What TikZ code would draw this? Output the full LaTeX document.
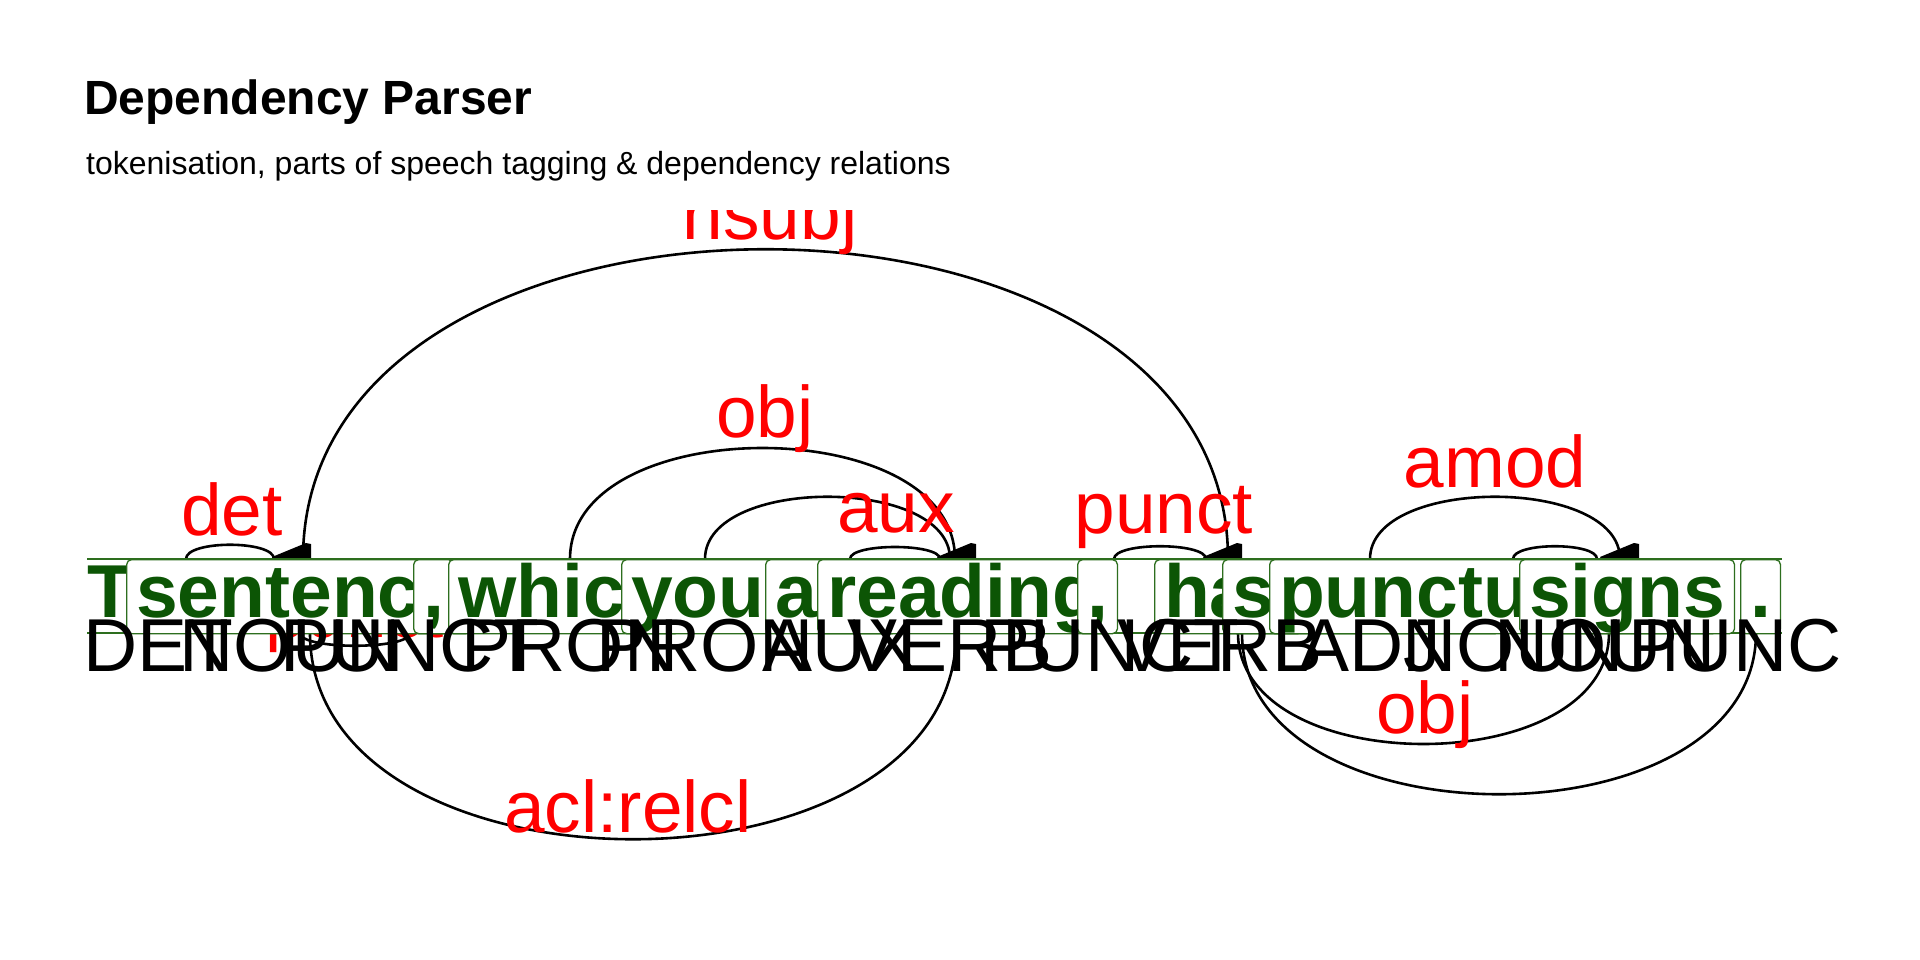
\documentclass[tikz,border=0pt]{standalone}
\usepackage{fontspec}
\setmainfont{Liberation Sans}
\newcommand\wordfnt{\fontsize{75}{82}\selectfont\bfseries}
\newcommand\tagfnt{\fontsize{75}{82}\selectfont}
\newcommand\lblfnt{\fontsize{73}{80}\selectfont}
\newcommand\titlefnt{\fontsize{48}{56}\selectfont\bfseries}
\newcommand\subfnt{\fontsize{32}{38}\selectfont}
\definecolor{wordgreen}{RGB}{12,85,5}
\definecolor{boxgreen}{RGB}{45,110,30}
\definecolor{lblred}{RGB}{255,0,0}
\begin{document}
\begin{tikzpicture}[x=1pt,y=-1pt,
  arcline/.style={draw=black,line width=2.6pt},
  wedge/.style={fill=black,draw=none},
  lbl/.style={font=\lblfnt,text=lblred,inner sep=0pt,anchor=base},
  wordbox/.style={draw=boxgreen,fill=white,rounded corners=5pt,line width=1.3pt,
    inner xsep=9.5pt,inner ysep=0pt,text height=58pt,text depth=16pt,
    font=\wordfnt,text=wordgreen,anchor=north west},
  tagtext/.style={font=\tagfnt,text=black,inner sep=0pt,anchor=base},
  rowline/.style={draw=boxgreen,line width=1.3pt}]
\useasboundingbox[fill=white] (0,0) rectangle (1920,960);

% ---------- upper arcs ----------
\coordinate (detA) at (186,559);   \coordinate (detB) at (274,559);
\coordinate (nsA) at (303,559);    \coordinate (nsB) at (1228,559);
\coordinate (objA) at (570,559);   \coordinate (objB) at (955,559);
\coordinate (nsbA) at (705,559);   \coordinate (nsbB) at (950,559);
\coordinate (auxA) at (850,559);   \coordinate (auxB) at (940,559);
\coordinate (puA) at (1114,559);   \coordinate (puB) at (1206,559);
\coordinate (amA) at (1370,559);   \coordinate (amB) at (1620,559);
\coordinate (coA) at (1513,559);   \coordinate (coB) at (1597,559);

\draw[arcline] (detA) .. controls (186,540) and (274,540) .. (detB);
\draw[arcline] (nsA) .. controls (303,146) and (1228,146) .. (nsB);
\draw[arcline] (objA) .. controls (570,411) and (955,411) .. (objB);
\draw[arcline] (nsbA) .. controls (705,476) and (950,476) .. (nsbB);
\draw[arcline] (auxA) .. controls (850,543) and (940,543) .. (auxB);
\draw[arcline] (puA) .. controls (1114,542) and (1206,542) .. (puB);
\draw[arcline] (amA) .. controls (1370,476) and (1620,476) .. (amB);
\draw[arcline] (coA) .. controls (1513,542) and (1597,542) .. (coB);

% arrow wedges
\foreach \a in {272,937,1203,1600}{
  \fill[wedge] (\a,557) -- (\a+34,543) -- (\a+39,544) -- (\a+39,562) -- (\a+3,562) -- cycle;
}

% upper labels
\node[lbl] (ldet) at (232,535) {det};
\node[lbl] (lns) at (770,240) {nsubj};
\node[lbl] (lobj) at (765,437) {obj};
\node[lbl] (laux) at (896,532) {aux};
\node[lbl] (lpu) at (1164,533) {punct};
\node[lbl] (lam) at (1495,487) {amod};

% ---------- lower arcs ----------
\coordinate (lpA) at (300,633);   \coordinate (lpB) at (410,633);
\coordinate (aclA) at (310,633);  \coordinate (aclB) at (956,633);
\coordinate (loA) at (1238,633);  \coordinate (loB) at (1609,633);
\coordinate (ouA) at (1242,633);  \coordinate (ouB) at (1756,633);

\draw[arcline] (lpA) .. controls (300,650) and (410,650) .. (lpB);
\draw[arcline] (aclA) .. controls (310,908) and (956,908) .. (aclB);
\draw[arcline] (loA) .. controls (1238,781) and (1609,781) .. (loB);
\draw[arcline] (ouA) .. controls (1242,848) and (1756,848) .. (ouB);

\node[lbl] (llp) at (355,637) {punct};
\node[lbl] (lacl) at (628,832) {acl:relcl};
\node[lbl] (llo) at (1425,733) {obj};

% ---------- header ----------
\fill[white] (0,0) rectangle (1920,210);
\node[anchor=base west,inner sep=0pt,font=\titlefnt] (title) at (84,115) {Dependency Parser};
\node[anchor=base west,inner sep=0pt,font=\subfnt] (subtitle) at (86,175) {tokenisation, parts of speech tagging \& dependency relations};

% ---------- word row ----------
\coordinate (rlA) at (87,559);  \coordinate (rlB) at (1782,559);
\coordinate (rlC) at (87,633);  \coordinate (rlD) at (1782,633);
\draw[rowline] (rlA) -- (rlB);
\draw[rowline] (rlC) -- (rlD);

\node[anchor=base west,inner sep=0pt,font=\wordfnt,text=wordgreen] (w0) at (87,617) {This};
\node[wordbox] (w1) at (126,559) {sentence};
\node[wordbox] (w2) at (413,559) {,};
\node[wordbox] (w3) at (448,559) {which};
\node[wordbox] (w4) at (621,559) {you};
\node[wordbox] (w5) at (765,559) {are};
\node[wordbox] (w6) at (817,559) {reading};
\node[wordbox] (w7) at (1077,559) {,};
\node[wordbox] (w8) at (1154,559) {has};
\node[wordbox] (w9) at (1222,559) {several};
\node[wordbox] (w10) at (1269,559) {punctuation};
\node[wordbox] (w11) at (1519,559) {signs};
\node[wordbox] (w12) at (1740,559) {.};

% ---------- tags ----------
\begin{scope}
\clip (0,0) rectangle (1841,960);
\node[tagtext] (t0) at (158,671) {DET};
\node[tagtext] (t1) at (290,671) {NOUN};
\node[tagtext] (t2) at (410,671) {PUNCT};
\node[tagtext] (t3) at (570,671) {PRON};
\node[tagtext] (t4) at (705,671) {PRON};
\node[tagtext] (t5) at (840,671) {AUX};
\node[tagtext] (t6) at (950,671) {VERB};
\node[tagtext] (t7) at (1110,671) {PUNCT};
\node[tagtext] (t8) at (1220,671) {VERB};
\node[tagtext] (t9) at (1370,671) {ADJ};
\node[tagtext] (t10) at (1513,671) {NOUN};
\node[tagtext] (t11) at (1605,671) {NOUN};
\node[tagtext] (t12) at (1758,671) {PUNCT};
\end{scope}
\end{tikzpicture}
\end{document}
